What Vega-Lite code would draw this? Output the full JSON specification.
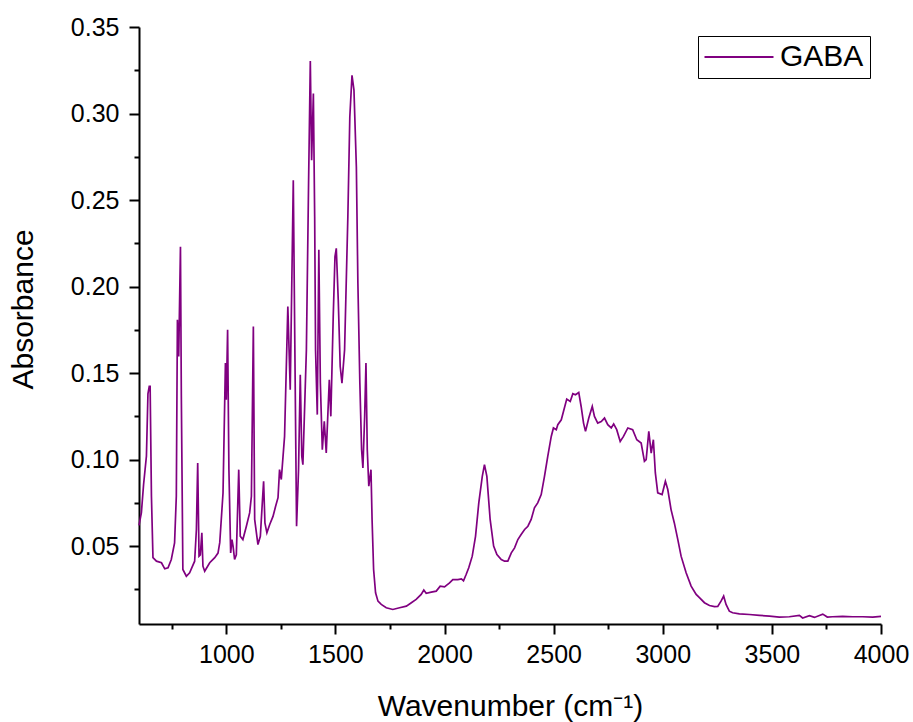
{
 "$schema": "https://vega.github.io/schema/vega-lite/v6.json",
 "width": 742,
 "height": 597,
 "autosize": {"type": "none"},
 "padding": {"left": 139, "top": 27, "right": 32, "bottom": 98},
 "background": "white",
 "config": {"view": {"stroke": null}, "font": "Liberation Sans"},
 "data": {"values": [
  {"wavenumber": 600, "absorbance": 0.062},
  {"wavenumber": 611, "absorbance": 0.0694},
  {"wavenumber": 621, "absorbance": 0.0856},
  {"wavenumber": 634, "absorbance": 0.102},
  {"wavenumber": 641, "absorbance": 0.138},
  {"wavenumber": 647, "absorbance": 0.1423},
  {"wavenumber": 651, "absorbance": 0.1423},
  {"wavenumber": 657, "absorbance": 0.0788},
  {"wavenumber": 664, "absorbance": 0.0433},
  {"wavenumber": 680, "absorbance": 0.0413},
  {"wavenumber": 703, "absorbance": 0.0404},
  {"wavenumber": 718, "absorbance": 0.0369},
  {"wavenumber": 733, "absorbance": 0.0375},
  {"wavenumber": 748, "absorbance": 0.0423},
  {"wavenumber": 763, "absorbance": 0.0519},
  {"wavenumber": 771, "absorbance": 0.0788},
  {"wavenumber": 776, "absorbance": 0.1808},
  {"wavenumber": 782, "absorbance": 0.1596},
  {"wavenumber": 790, "absorbance": 0.223},
  {"wavenumber": 794, "absorbance": 0.1365},
  {"wavenumber": 801, "absorbance": 0.0365},
  {"wavenumber": 817, "absorbance": 0.0326},
  {"wavenumber": 832, "absorbance": 0.0346},
  {"wavenumber": 855, "absorbance": 0.0413},
  {"wavenumber": 863, "absorbance": 0.0596},
  {"wavenumber": 869, "absorbance": 0.0981},
  {"wavenumber": 875, "absorbance": 0.0442},
  {"wavenumber": 881, "absorbance": 0.045},
  {"wavenumber": 888, "absorbance": 0.0577},
  {"wavenumber": 893, "absorbance": 0.0384},
  {"wavenumber": 901, "absorbance": 0.0355},
  {"wavenumber": 924, "absorbance": 0.0404},
  {"wavenumber": 947, "absorbance": 0.0433},
  {"wavenumber": 962, "absorbance": 0.046},
  {"wavenumber": 970, "absorbance": 0.052},
  {"wavenumber": 985, "absorbance": 0.0807},
  {"wavenumber": 996, "absorbance": 0.1558},
  {"wavenumber": 1000, "absorbance": 0.1346},
  {"wavenumber": 1006, "absorbance": 0.175},
  {"wavenumber": 1012, "absorbance": 0.0942},
  {"wavenumber": 1020, "absorbance": 0.0461},
  {"wavenumber": 1026, "absorbance": 0.0538},
  {"wavenumber": 1031, "absorbance": 0.05},
  {"wavenumber": 1038, "absorbance": 0.0423},
  {"wavenumber": 1046, "absorbance": 0.045},
  {"wavenumber": 1057, "absorbance": 0.0942},
  {"wavenumber": 1064, "absorbance": 0.0557},
  {"wavenumber": 1076, "absorbance": 0.0538},
  {"wavenumber": 1092, "absorbance": 0.0615},
  {"wavenumber": 1107, "absorbance": 0.0692},
  {"wavenumber": 1115, "absorbance": 0.0788},
  {"wavenumber": 1124, "absorbance": 0.1769},
  {"wavenumber": 1130, "absorbance": 0.0654},
  {"wavenumber": 1145, "absorbance": 0.0509},
  {"wavenumber": 1156, "absorbance": 0.0557},
  {"wavenumber": 1165, "absorbance": 0.075},
  {"wavenumber": 1171, "absorbance": 0.0875},
  {"wavenumber": 1177, "absorbance": 0.0634},
  {"wavenumber": 1186, "absorbance": 0.0577},
  {"wavenumber": 1199, "absorbance": 0.0625},
  {"wavenumber": 1214, "absorbance": 0.0672},
  {"wavenumber": 1226, "absorbance": 0.073},
  {"wavenumber": 1237, "absorbance": 0.078},
  {"wavenumber": 1244, "absorbance": 0.0942},
  {"wavenumber": 1252, "absorbance": 0.0885},
  {"wavenumber": 1260, "absorbance": 0.1019},
  {"wavenumber": 1267, "absorbance": 0.1134},
  {"wavenumber": 1282, "absorbance": 0.1884},
  {"wavenumber": 1293, "absorbance": 0.1404},
  {"wavenumber": 1307, "absorbance": 0.2615},
  {"wavenumber": 1313, "absorbance": 0.18},
  {"wavenumber": 1322, "absorbance": 0.0615},
  {"wavenumber": 1331, "absorbance": 0.094},
  {"wavenumber": 1339, "absorbance": 0.149},
  {"wavenumber": 1346, "absorbance": 0.1019},
  {"wavenumber": 1351, "absorbance": 0.0971},
  {"wavenumber": 1367, "absorbance": 0.1634},
  {"wavenumber": 1377, "absorbance": 0.2596},
  {"wavenumber": 1385, "absorbance": 0.3304},
  {"wavenumber": 1391, "absorbance": 0.273},
  {"wavenumber": 1399, "absorbance": 0.3116},
  {"wavenumber": 1405, "absorbance": 0.2404},
  {"wavenumber": 1409, "absorbance": 0.1634},
  {"wavenumber": 1417, "absorbance": 0.126},
  {"wavenumber": 1424, "absorbance": 0.2212},
  {"wavenumber": 1431, "absorbance": 0.1442},
  {"wavenumber": 1440, "absorbance": 0.1057},
  {"wavenumber": 1449, "absorbance": 0.1221},
  {"wavenumber": 1458, "absorbance": 0.1039},
  {"wavenumber": 1472, "absorbance": 0.1461},
  {"wavenumber": 1479, "absorbance": 0.125},
  {"wavenumber": 1490, "absorbance": 0.1827},
  {"wavenumber": 1498, "absorbance": 0.2173},
  {"wavenumber": 1504, "absorbance": 0.2221},
  {"wavenumber": 1513, "absorbance": 0.1923},
  {"wavenumber": 1522, "absorbance": 0.1538},
  {"wavenumber": 1530, "absorbance": 0.1442},
  {"wavenumber": 1542, "absorbance": 0.1634},
  {"wavenumber": 1557, "absorbance": 0.2404},
  {"wavenumber": 1566, "absorbance": 0.298},
  {"wavenumber": 1576, "absorbance": 0.3221},
  {"wavenumber": 1585, "absorbance": 0.3135},
  {"wavenumber": 1596, "absorbance": 0.2692},
  {"wavenumber": 1603, "absorbance": 0.2019},
  {"wavenumber": 1612, "absorbance": 0.1442},
  {"wavenumber": 1620, "absorbance": 0.1057},
  {"wavenumber": 1626, "absorbance": 0.0952},
  {"wavenumber": 1634, "absorbance": 0.125},
  {"wavenumber": 1640, "absorbance": 0.1558},
  {"wavenumber": 1646, "absorbance": 0.1057},
  {"wavenumber": 1653, "absorbance": 0.0846},
  {"wavenumber": 1663, "absorbance": 0.0942},
  {"wavenumber": 1668, "absorbance": 0.0654},
  {"wavenumber": 1675, "absorbance": 0.0365},
  {"wavenumber": 1684, "absorbance": 0.023},
  {"wavenumber": 1695, "absorbance": 0.0182},
  {"wavenumber": 1710, "absorbance": 0.0163},
  {"wavenumber": 1733, "absorbance": 0.0144},
  {"wavenumber": 1763, "absorbance": 0.0134},
  {"wavenumber": 1794, "absorbance": 0.0144},
  {"wavenumber": 1825, "absorbance": 0.0153},
  {"wavenumber": 1848, "absorbance": 0.0173},
  {"wavenumber": 1870, "absorbance": 0.0192},
  {"wavenumber": 1893, "absorbance": 0.0221},
  {"wavenumber": 1905, "absorbance": 0.0246},
  {"wavenumber": 1916, "absorbance": 0.0227},
  {"wavenumber": 1939, "absorbance": 0.0234},
  {"wavenumber": 1962, "absorbance": 0.024},
  {"wavenumber": 1980, "absorbance": 0.0269},
  {"wavenumber": 2000, "absorbance": 0.0265},
  {"wavenumber": 2023, "absorbance": 0.0288},
  {"wavenumber": 2038, "absorbance": 0.0307},
  {"wavenumber": 2061, "absorbance": 0.0307},
  {"wavenumber": 2077, "absorbance": 0.0311},
  {"wavenumber": 2087, "absorbance": 0.03},
  {"wavenumber": 2099, "absorbance": 0.0336},
  {"wavenumber": 2111, "absorbance": 0.0375},
  {"wavenumber": 2127, "absorbance": 0.0442},
  {"wavenumber": 2142, "absorbance": 0.0557},
  {"wavenumber": 2157, "absorbance": 0.075},
  {"wavenumber": 2173, "absorbance": 0.0903},
  {"wavenumber": 2183, "absorbance": 0.0971},
  {"wavenumber": 2194, "absorbance": 0.0903},
  {"wavenumber": 2209, "absorbance": 0.0654},
  {"wavenumber": 2225, "absorbance": 0.05},
  {"wavenumber": 2240, "absorbance": 0.0452},
  {"wavenumber": 2260, "absorbance": 0.0423},
  {"wavenumber": 2275, "absorbance": 0.0413},
  {"wavenumber": 2290, "absorbance": 0.0413},
  {"wavenumber": 2306, "absorbance": 0.0461},
  {"wavenumber": 2321, "absorbance": 0.049},
  {"wavenumber": 2336, "absorbance": 0.0538},
  {"wavenumber": 2351, "absorbance": 0.0567},
  {"wavenumber": 2367, "absorbance": 0.0596},
  {"wavenumber": 2382, "absorbance": 0.0615},
  {"wavenumber": 2397, "absorbance": 0.0654},
  {"wavenumber": 2412, "absorbance": 0.0721},
  {"wavenumber": 2427, "absorbance": 0.075},
  {"wavenumber": 2443, "absorbance": 0.0798},
  {"wavenumber": 2458, "absorbance": 0.0903},
  {"wavenumber": 2473, "absorbance": 0.1019},
  {"wavenumber": 2489, "absorbance": 0.1134},
  {"wavenumber": 2499, "absorbance": 0.1183},
  {"wavenumber": 2512, "absorbance": 0.1173},
  {"wavenumber": 2519, "absorbance": 0.1202},
  {"wavenumber": 2535, "absorbance": 0.123},
  {"wavenumber": 2545, "absorbance": 0.1278},
  {"wavenumber": 2560, "absorbance": 0.135},
  {"wavenumber": 2576, "absorbance": 0.1336},
  {"wavenumber": 2588, "absorbance": 0.1381},
  {"wavenumber": 2600, "absorbance": 0.1375},
  {"wavenumber": 2615, "absorbance": 0.1388},
  {"wavenumber": 2626, "absorbance": 0.1307},
  {"wavenumber": 2637, "absorbance": 0.1211},
  {"wavenumber": 2646, "absorbance": 0.1163},
  {"wavenumber": 2661, "absorbance": 0.124},
  {"wavenumber": 2677, "absorbance": 0.1307},
  {"wavenumber": 2687, "absorbance": 0.125},
  {"wavenumber": 2702, "absorbance": 0.1211},
  {"wavenumber": 2718, "absorbance": 0.122},
  {"wavenumber": 2733, "absorbance": 0.124},
  {"wavenumber": 2748, "absorbance": 0.1202},
  {"wavenumber": 2764, "absorbance": 0.1183},
  {"wavenumber": 2775, "absorbance": 0.1206},
  {"wavenumber": 2789, "absorbance": 0.1173},
  {"wavenumber": 2805, "absorbance": 0.1105},
  {"wavenumber": 2820, "absorbance": 0.1134},
  {"wavenumber": 2840, "absorbance": 0.1183},
  {"wavenumber": 2862, "absorbance": 0.1173},
  {"wavenumber": 2881, "absorbance": 0.1115},
  {"wavenumber": 2901, "absorbance": 0.1096},
  {"wavenumber": 2916, "absorbance": 0.099},
  {"wavenumber": 2924, "absorbance": 0.1},
  {"wavenumber": 2936, "absorbance": 0.1163},
  {"wavenumber": 2947, "absorbance": 0.1038},
  {"wavenumber": 2957, "absorbance": 0.1115},
  {"wavenumber": 2966, "absorbance": 0.0923},
  {"wavenumber": 2977, "absorbance": 0.0808},
  {"wavenumber": 2997, "absorbance": 0.0798},
  {"wavenumber": 3012, "absorbance": 0.0875},
  {"wavenumber": 3023, "absorbance": 0.0827},
  {"wavenumber": 3038, "absorbance": 0.0711},
  {"wavenumber": 3053, "absorbance": 0.0634},
  {"wavenumber": 3069, "absorbance": 0.0538},
  {"wavenumber": 3084, "absorbance": 0.0442},
  {"wavenumber": 3107, "absorbance": 0.0346},
  {"wavenumber": 3130, "absorbance": 0.0269},
  {"wavenumber": 3153, "absorbance": 0.0221},
  {"wavenumber": 3168, "absorbance": 0.0202},
  {"wavenumber": 3191, "absorbance": 0.0173},
  {"wavenumber": 3214, "absorbance": 0.0157},
  {"wavenumber": 3237, "absorbance": 0.015},
  {"wavenumber": 3252, "absorbance": 0.0151},
  {"wavenumber": 3267, "absorbance": 0.0182},
  {"wavenumber": 3279, "absorbance": 0.0211},
  {"wavenumber": 3290, "absorbance": 0.0163},
  {"wavenumber": 3305, "absorbance": 0.0124},
  {"wavenumber": 3320, "absorbance": 0.0115},
  {"wavenumber": 3351, "absorbance": 0.0109},
  {"wavenumber": 3397, "absorbance": 0.0105},
  {"wavenumber": 3443, "absorbance": 0.01},
  {"wavenumber": 3489, "absorbance": 0.0096},
  {"wavenumber": 3534, "absorbance": 0.009},
  {"wavenumber": 3580, "absorbance": 0.0092},
  {"wavenumber": 3626, "absorbance": 0.01},
  {"wavenumber": 3641, "absorbance": 0.0085},
  {"wavenumber": 3672, "absorbance": 0.0098},
  {"wavenumber": 3695, "absorbance": 0.0088},
  {"wavenumber": 3733, "absorbance": 0.0107},
  {"wavenumber": 3754, "absorbance": 0.009},
  {"wavenumber": 3778, "absorbance": 0.0092},
  {"wavenumber": 3824, "absorbance": 0.0094},
  {"wavenumber": 3870, "absorbance": 0.0092},
  {"wavenumber": 3916, "absorbance": 0.0092},
  {"wavenumber": 3962, "absorbance": 0.009},
  {"wavenumber": 4000, "absorbance": 0.0094}
 ]},
 "mark": {"type": "line", "strokeWidth": 1.7, "interpolate": "linear"},
 "encoding": {
  "x": {
   "field": "wavenumber", "type": "quantitative",
   "scale": {"domain": [600, 4000], "nice": false, "zero": false},
   "axis": {
    "title": "Wavenumber (cm⁻¹)",
    "values": [750, 1000, 1250, 1500, 1750, 2000, 2250, 2500, 2750, 3000, 3250, 3500, 3750, 4000],
    "format": "d",
    "labelExpr": "datum.value % 500 === 0 ? datum.label : ''",
    "tickSize": {"condition": {"test": "datum.value % 500 === 0", "value": 10}, "value": 5},
    "grid": false,
    "domainColor": "black", "domainWidth": 2,
    "tickColor": "black", "tickWidth": 2,
    "labelFont": "Liberation Sans", "labelFontSize": 25, "labelColor": "black",
    "labelPadding": 8, "labelFlush": false, "labelOverlap": false,
    "titleFont": "Liberation Sans", "titleFontSize": 30, "titleFontWeight": "normal", "titleColor": "black",
    "titlePadding": 24
   }
  },
  "y": {
   "field": "absorbance", "type": "quantitative",
   "scale": {"domain": [0.005, 0.35], "nice": false, "zero": false},
   "axis": {
    "title": "Absorbance",
    "values": [0.025, 0.05, 0.075, 0.1, 0.125, 0.15, 0.175, 0.2, 0.225, 0.25, 0.275, 0.3, 0.325, 0.35],
    "labelExpr": "round(datum.value * 40) % 2 === 0 ? format(datum.value, '.2f') : ''",
    "tickSize": {"condition": {"test": "round(datum.value * 40) % 2 === 0", "value": 10}, "value": 5},
    "grid": false,
    "domainColor": "black", "domainWidth": 2,
    "tickColor": "black", "tickWidth": 2,
    "labelFont": "Liberation Sans", "labelFontSize": 25, "labelColor": "black",
    "labelPadding": 10, "labelFlush": false, "labelOverlap": false,
    "titleFont": "Liberation Sans", "titleFontSize": 30, "titleFontWeight": "normal", "titleColor": "black",
    "titlePadding": 32, "titleY": 282
   }
  },
  "color": {
   "datum": "GABA", "type": "nominal",
   "scale": {"range": ["#800080"]},
   "legend": {
    "orient": "none", "legendX": 559, "legendY": 9,
    "title": null,
    "symbolType": "M-3,0H3", "symbolSize": 529, "symbolStrokeWidth": 2,
    "symbolOffset": 20,
    "labelFont": "Liberation Sans", "labelFontSize": 30, "labelColor": "black",
    "labelOffset": 26,
    "strokeColor": "black", "fillColor": "white", "padding": 6
   }
  }
 }
}
